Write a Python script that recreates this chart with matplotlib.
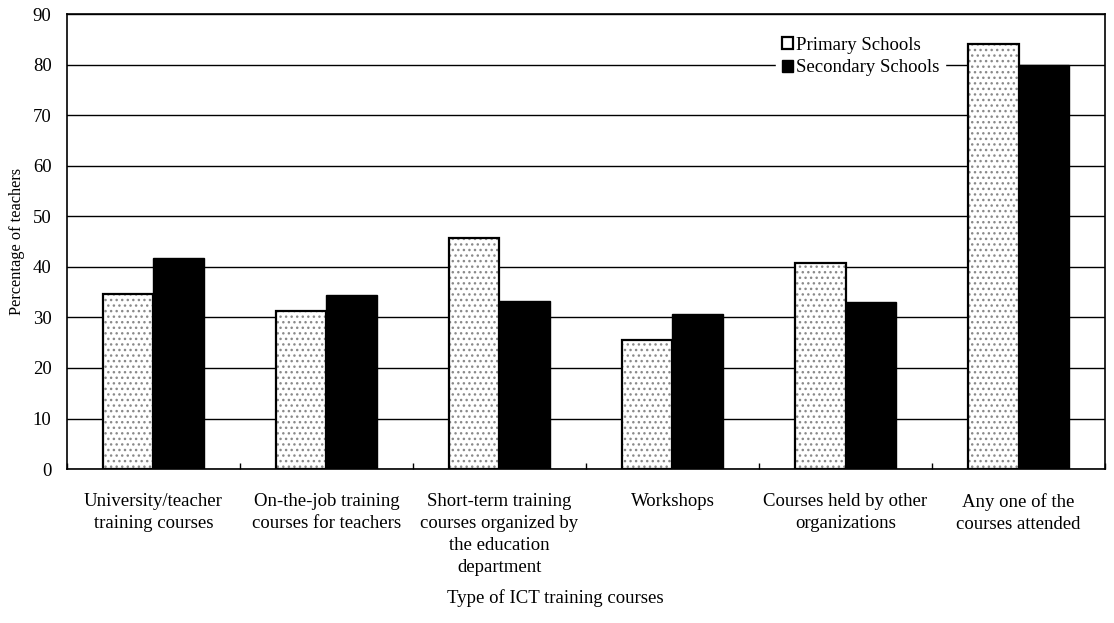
import numpy as np
import matplotlib
matplotlib.use("Agg")
import matplotlib.pyplot as plt

plt.rcParams["font.family"] = ["Liberation Serif", "DejaVu Serif"]

categories = [
    "University/teacher\ntraining courses",
    "On-the-job training\ncourses for teachers",
    "Short-term training\ncourses organized by\nthe education\ndepartment",
    "Workshops",
    "Courses held by other\norganizations",
    "Any one of the\ncourses attended",
]
primary = [34.7, 31.3, 45.8, 25.6, 40.7, 84.0]
secondary = [41.8, 34.5, 33.3, 30.7, 33.0, 80.0]
y_ticks = [0, 10, 20, 30, 40, 50, 60, 70, 80, 90]


def main():
    fig = plt.figure(figsize=(11.14, 6.23), dpi=100)
    ax = fig.add_axes([0.060, 0.247, 0.932, 0.7305])

    x = np.arange(len(categories))
    width = 0.29

    # grey speckled fill, then the black outline on top
    ax.bar(x - width / 2, primary, width, color="white", edgecolor="#8a8a8a",
           linewidth=0, hatch="...", zorder=3)
    ax.bar(x - width / 2, primary, width, fill=False, edgecolor="black",
           linewidth=1.6, label="Primary Schools", zorder=4)
    ax.bar(x + width / 2, secondary, width, color="black", edgecolor="black",
           linewidth=1.0, label="Secondary Schools", zorder=4)

    ax.set_xlim(-0.5, len(categories) - 0.5)
    ax.set_ylim(0, 90)
    ax.set_yticks(y_ticks)
    ax.yaxis.grid(True, color="black", linewidth=1.0, zorder=0)
    ax.set_axisbelow(True)

    ax.set_xticks(x)
    ax.set_xticklabels(categories, fontsize=13.5, linespacing=1.4, va="top")
    ax.set_xticks(np.arange(len(categories) + 1) - 0.5, minor=True)
    ax.tick_params(axis="x", which="major", length=0, pad=17)
    ax.tick_params(axis="x", which="minor", direction="in", length=4, width=1)
    ax.tick_params(axis="y", length=0, pad=11, labelsize=13.5)

    for side in ["left", "right", "top", "bottom"]:
        ax.spines[side].set_linewidth(1.2)
        ax.spines[side].set_color("black")

    ax.set_ylabel("Percentage of teachers", fontsize=11.8)
    ax.yaxis.set_label_coords(-0.040, 0.5)
    ax.set_xlabel("Type of ICT training courses", fontsize=13.5)
    ax.xaxis.set_label_coords(0.47, -0.264)

    leg = ax.legend(loc="upper left", bbox_to_anchor=(0.683, 0.962), frameon=True,
                    fontsize=13.5, handlelength=0.6, handleheight=0.6,
                    handletextpad=0.15, labelspacing=0.28, borderpad=0.3,
                    borderaxespad=0)
    leg.get_frame().set_facecolor("white")
    leg.get_frame().set_edgecolor("white")
    leg.get_frame().set_alpha(1.0)
    leg.set_zorder(5)

    fig.savefig("out.png", dpi=100)


if __name__ == "__main__":
    main()
